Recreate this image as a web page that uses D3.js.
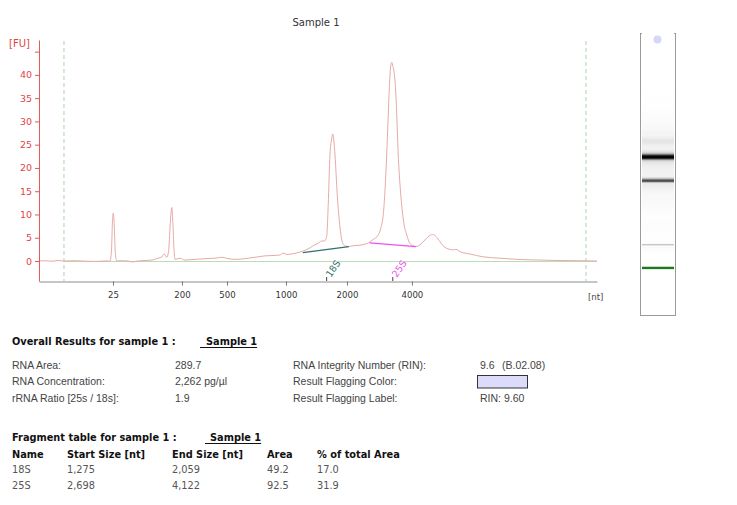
<!DOCTYPE html>
<html>
<head>
<meta charset="utf-8">
<script src="https://cdn.jsdelivr.net/npm/d3@7"></script>
<style>
  body { margin: 0; background: #fff; }
  svg { display: block; }
</style>
</head>
<body>
<div id="chart"></div>
<script>
const WIDTH = 737, HEIGHT = 505;

// electropherogram: migration time [s] vs fluorescence [FU]
const traceTime = [19.00, 19.45, 19.98, 20.43, 20.88, 21.71, 22.46, 23.21, 23.97, 24.35,
    24.46, 24.53, 24.59, 24.66, 24.74, 24.85, 25.25, 25.70, 26.00, 26.45,
    26.98, 27.49, 27.95, 28.25, 28.43, 28.61, 28.75, 28.88, 28.99, 29.07,
    29.16, 29.24, 29.61, 29.99, 30.74, 31.49, 32.25, 32.77, 33.23, 33.75,
    34.50, 35.26, 36.01, 36.76, 37.14, 37.37, 37.67, 38.27, 38.87, 39.25,
    39.65, 40.00, 40.28, 40.49, 40.65, 40.77, 40.90, 41.02, 41.11, 41.19,
    41.28, 41.45, 41.66, 41.90, 42.28, 42.71, 43.16, 43.79, 44.14, 44.54,
    44.74, 44.91, 45.04, 45.17, 45.27, 45.37, 45.46, 45.55, 45.64, 45.80,
    45.92, 46.04, 46.17, 46.30, 46.47, 46.68, 46.92, 47.17, 47.38, 47.68,
    47.98, 48.28, 48.63, 48.88, 49.18, 49.41, 49.69, 49.93, 50.18, 50.39,
    50.69, 51.44, 52.42, 53.70, 54.96, 56.71, 58.21, 59.95, 61.00];
const traceFU = [0.0, 0.05, -0.05, 0.1, 0.0, 0.05, -0.05, -0.1, 0.0, 0.0,
    2.5, 8.5, 10.3, 8.0, 2.0, 0.0, 0.05, 0.0, -0.2, 0.0,
    0.1, 0.2, 0.6, 0.9, 1.5, 0.8, 2.0, 8.0, 11.5, 8.5,
    2.5, 0.35, 0.6, 0.2, 0.35, 0.5, 0.6, 0.8, 0.5, 0.35,
    0.5, 0.8, 1.1, 1.2, 1.3, 1.7, 1.4, 1.65, 2.15, 2.6,
    3.3, 3.8, 4.3, 4.3, 5.2, 12.0, 22.8, 26.0, 27.3, 26.0,
    22.8, 14.2, 7.1, 3.6, 3.1, 3.3, 3.4, 3.9, 4.6, 5.6,
    7.2, 9.9, 15.0, 22.8, 30.0, 37.2, 41.5, 42.7, 41.8, 38.6,
    32.0, 22.8, 16.5, 12.0, 8.0, 5.6, 3.8, 3.3, 3.1, 3.5,
    4.3, 5.2, 5.7, 5.3, 4.15, 3.3, 2.7, 2.5, 2.4, 2.5,
    2.0, 1.5, 0.9, 0.6, 0.35, 0.2, 0.1, 0.05, 0.0];

// ladder used for the size axis
const ladderSizes = [25, 200, 500, 1000, 2000, 4000];
const ladderTimes = [24.57, 29.76, 33.15, 37.59, 42.18, 47.07];
const yTicks = [0, 5, 10, 15, 20, 25, 30, 35, 40, 45];
const markerTimes = [20.88, 60.17];
const lowerMarkerTime = 24.57;

// fragment table
const fragNames = ["18S", "25S"];
const fragStart = [1275, 2698];
const fragEnd = [2059, 4122];
const fragArea = ["49.2", "92.5"];
const fragPct = ["17.0", "31.9"];
const fragStartFU = [1.8, 3.9];
const fragEndFU = [3.1, 3.1];
const fragColors = ["#336f6b", "#f050f0"];

// overall results
const leftLabels = ["RNA Area:", "RNA Concentration:", "rRNA Ratio [25s / 18s]:"];
const leftValues = ["289.7", "2,262 pg/µl", "1.9"];
const rightLabels = ["RNA Integrity Number (RIN):", "Result Flagging Color:", "Result Flagging Label:"];
const rightValues = ["9.6", "", "RIN: 9.60"];

const trace = traceTime.map((t, i) => ({ t: t, fu: traceFU[i] }));

const svg = d3.select("#chart")
    .append("svg")
    .attr("width", WIDTH)
    .attr("height", HEIGHT)
    .style("font-family", "DejaVu Sans, Verdana, sans-serif");

const x = d3.scaleLinear().domain([19, 61]).range([39, 597]);
const y = d3.scaleLinear().domain([-4.3, 47.5]).range([281, 40]);
const sizeToTime = d3.scaleLinear().domain(ladderSizes).range(ladderTimes);

svg.append("text")
    .attr("x", 316).attr("y", 26)
    .attr("text-anchor", "middle")
    .attr("font-size", 10).attr("fill", "#333")
    .text("Sample 1");

// marker lines and zero line
svg.selectAll(".marker").data(markerTimes).enter().append("line")
    .attr("x1", d => x(d)).attr("x2", d => x(d))
    .attr("y1", 41).attr("y2", 281)
    .attr("stroke", "#a9d6a9").attr("stroke-dasharray", "4,3");
svg.append("line")
    .attr("x1", x(markerTimes[0])).attr("x2", 597)
    .attr("y1", y(0) + 0.5).attr("y2", y(0) + 0.5)
    .attr("stroke", "#b9dcb9").attr("stroke-width", 1.2);

const line = d3.line().x(d => x(d.t)).y(d => y(d.fu)).curve(d3.curveMonotoneX);
svg.append("path")
    .datum(trace)
    .attr("d", line)
    .attr("fill", "none")
    .attr("stroke", "#e7aaa8")
    .attr("stroke-width", 1);

// fragment baselines
fragNames.forEach((name, i) => {
    svg.append("line")
        .attr("x1", x(sizeToTime(fragStart[i]))).attr("y1", y(fragStartFU[i]))
        .attr("x2", x(sizeToTime(fragEnd[i]))).attr("y2", y(fragEndFU[i]))
        .attr("stroke", fragColors[i]).attr("stroke-width", 1.3);
    const mx = x(sizeToTime((fragStart[i] + fragEnd[i]) / 2));
    svg.append("line")
        .attr("x1", mx).attr("x2", mx).attr("y1", 277).attr("y2", 281)
        .attr("stroke", "#444");
    svg.append("text")
        .attr("transform", `translate(${mx + 4},278) rotate(-55)`)
        .attr("font-size", 9.5).attr("fill", fragColors[i])
        .text(name);
});

// axes
const yAxis = svg.append("g")
    .attr("transform", "translate(39,0)")
    .call(d3.axisLeft(y).tickValues(yTicks).tickSize(4).tickSizeOuter(0)
        .tickFormat(d => d === 45 ? "" : d));
yAxis.select(".domain").attr("stroke", "#e25a5a");
yAxis.selectAll(".tick line").attr("stroke", "#e25a5a");
yAxis.selectAll(".tick text").attr("fill", "#e04646")
    .attr("font-size", 9.5).attr("font-family", "DejaVu Sans");
svg.append("text")
    .attr("x", 9).attr("y", 47)
    .attr("font-size", 10).attr("fill", "#e04646")
    .text("[FU]");

const xAxis = svg.append("g")
    .attr("transform", "translate(0,281.5)")
    .call(d3.axisBottom(x).tickValues(ladderTimes).tickSize(4).tickSizeOuter(0)
        .tickFormat((d, i) => ladderSizes[i]));
xAxis.select(".domain").attr("stroke", "#8c8c8c");
xAxis.selectAll(".tick line").attr("stroke", "#777");
xAxis.selectAll(".tick text").attr("fill", "#333")
    .attr("font-size", 9.5).attr("font-family", "DejaVu Sans Condensed, DejaVu Sans")
    .attr("dy", "0.95em");
svg.append("text")
    .attr("x", 588).attr("y", 300)
    .attr("font-size", 9.5).attr("fill", "#444")
    .attr("font-family", "DejaVu Sans Condensed, DejaVu Sans")
    .text("[nt]");

// gel lane
const gelY = d3.scaleLinear().domain([15.65, 69.1]).range([315, 33]);
const gray = d3.scaleLinear()
    .domain([0, 4, 11, 27, 42])
    .range(["#ffffff", "#eeeeee", "#c6c6c6", "#4a4a4a", "#000000"])
    .clamp(true);
const grad = svg.append("defs").append("linearGradient")
    .attr("id", "gel").attr("x1", 0).attr("x2", 0).attr("y1", 0).attr("y2", 1);
grad.selectAll("stop")
    .data(trace.slice().sort((a, b) => b.t - a.t))
    .enter().append("stop")
    .attr("offset", d => (gelY(d.t) - 33) / 282)
    .attr("stop-color", d => gray(Math.max(0, d.fu)));
svg.append("rect")
    .attr("x", 640.5).attr("y", 33.5).attr("width", 35).attr("height", 282)
    .attr("fill", "#fff").attr("stroke", "#9a9a9a");
svg.append("rect")
    .attr("x", 642).attr("y", 33).attr("width", 32).attr("height", 282)
    .attr("fill", "url(#gel)");
svg.append("rect")
    .attr("x", 642).attr("y", gelY(lowerMarkerTime) - 1.2)
    .attr("width", 32).attr("height", 2.4)
    .attr("fill", "#1f7a1f");
svg.append("circle")
    .attr("cx", 657.5).attr("cy", 39.5).attr("r", 4)
    .attr("fill", "#d6d6f8");

// results text
function Header(text, sample, yPos) {
    svg.append("text")
        .attr("x", 12).attr("y", yPos)
        .attr("font-size", 9.8).attr("font-weight", "bold").attr("fill", "#111")
        .text(text);
    return svg.append("text")
        .attr("y", yPos)
        .attr("font-size", 9.8).attr("font-weight", "bold").attr("fill", "#111")
        .text(sample);
}
const s1 = Header("Overall Results for sample 1 :", "Sample 1", 345).attr("x", 206);
svg.append("line").attr("x1", 200).attr("x2", 206 + s1.node().getComputedTextLength())
    .attr("y1", 347.5).attr("y2", 347.5).attr("stroke", "#111");

const rowsY = [368.5, 385, 401.5];
const plain = sel => sel.attr("font-family", "Liberation Sans, Arial, sans-serif")
    .attr("font-size", 10.5).attr("fill", "#444");
leftLabels.forEach((d, i) => {
    plain(svg.append("text").attr("x", 12).attr("y", rowsY[i]).text(d));
    plain(svg.append("text").attr("x", 175).attr("y", rowsY[i]).text(leftValues[i]));
    plain(svg.append("text").attr("x", 293).attr("y", rowsY[i]).text(rightLabels[i]));
    plain(svg.append("text").attr("x", 480).attr("y", rowsY[i]).text(rightValues[i]));
});
plain(svg.append("text").attr("x", 502).attr("y", rowsY[0]).text("(B.02.08)"));
svg.append("rect")
    .attr("x", 477.5).attr("y", 375.5).attr("width", 50).attr("height", 12.5)
    .attr("fill", "#dcdcfa").attr("stroke", "#333");

const s2 = Header("Fragment table for sample 1 :", "Sample 1", 441).attr("x", 210);
svg.append("line").attr("x1", 205).attr("x2", 210 + s2.node().getComputedTextLength())
    .attr("y1", 443.5).attr("y2", 443.5).attr("stroke", "#111");

const colX = [12, 67, 172, 267, 317];
const colHeads = ["Name", "Start Size [nt]", "End Size [nt]", "Area", "% of total Area"];
colHeads.forEach((d, i) => {
    svg.append("text").attr("x", colX[i]).attr("y", 457.5)
        .attr("font-size", 9.8).attr("font-weight", "bold").attr("fill", "#111")
        .text(d);
});
const fmt = d3.format(",");
fragNames.forEach((name, i) => {
    const cells = [name, fmt(fragStart[i]), fmt(fragEnd[i]), fragArea[i], fragPct[i]];
    cells.forEach((c, j) => {
        svg.append("text").attr("x", colX[j]).attr("y", 473 + i * 15.5)
            .attr("font-size", 9.8).attr("fill", "#555")
            .text(c);
    });
});
</script>
</body>
</html>
